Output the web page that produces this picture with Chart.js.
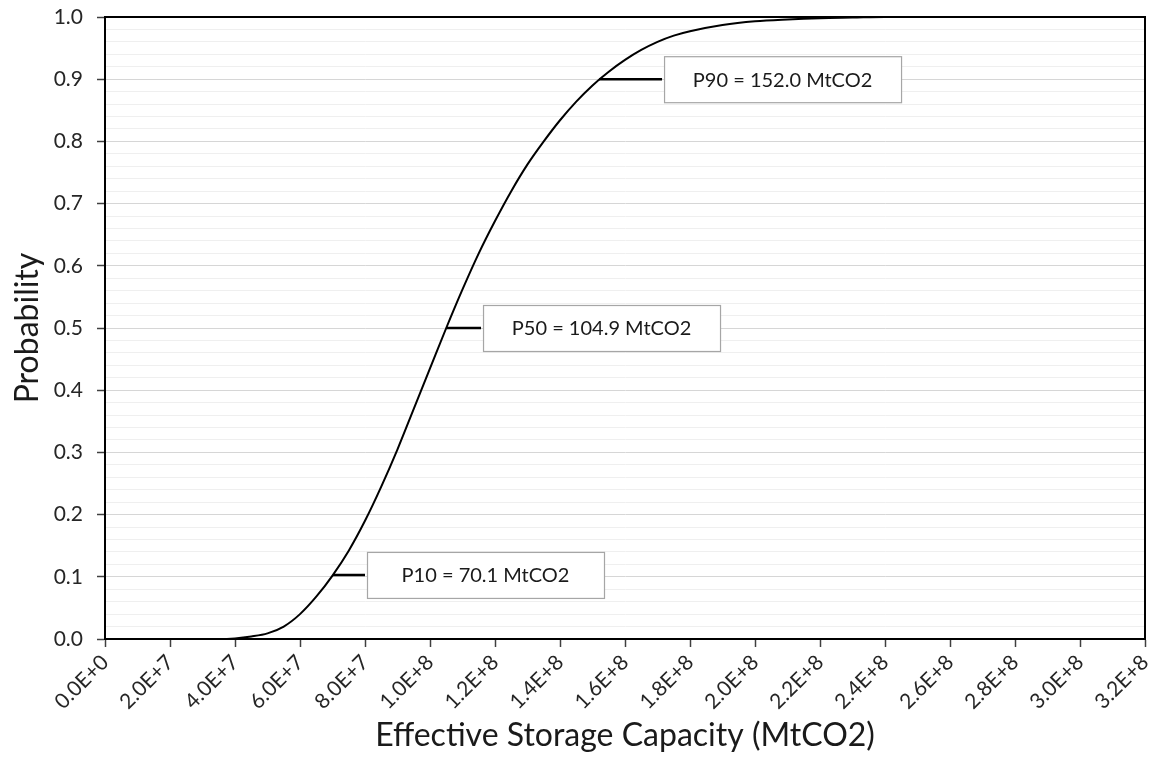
<!DOCTYPE html>
<html>
<head>
<meta charset="utf-8">
<script src="https://cdn.jsdelivr.net/npm/chart.js@4.4.1/dist/chart.umd.min.js"></script>
<style>
  html, body { margin: 0; padding: 0; background: #ffffff; }
  #wrap { position: relative; width: 1156px; height: 760px; }
</style>
</head>
<body>
<div id="wrap"><canvas id="c" width="1156" height="760"></canvas></div>
<script>
// ---- data ----
const capacity = [2.6e7, 3.0e7, 3.5e7, 4.0e7, 4.5e7, 5.0e7, 5.5e7, 6.0e7, 6.5e7, 7.0e7, 7.5e7, 8.0e7, 8.5e7, 9.0e7, 9.5e7, 1.0e8, 1.05e8, 1.1e8, 1.15e8, 1.2e8, 1.25e8, 1.3e8, 1.35e8, 1.4e8, 1.45e8, 1.5e8, 1.55e8, 1.6e8, 1.65e8, 1.7e8, 1.75e8, 1.8e8, 1.9e8, 2.0e8, 2.1e8, 2.2e8, 2.3e8, 2.4e8, 2.6e8, 2.8e8, 3.2e8];
const probability = [0, 0, 0, 0.001, 0.004, 0.009, 0.02, 0.04, 0.068, 0.102, 0.142, 0.19, 0.245, 0.305, 0.37, 0.435, 0.50, 0.562, 0.62, 0.672, 0.72, 0.763, 0.80, 0.834, 0.864, 0.89, 0.912, 0.931, 0.947, 0.96, 0.97, 0.977, 0.987, 0.993, 0.996, 0.998, 0.999, 1.0, 1.0, 1.0, 1.0];

const xTickLabels = ["0.0E+0","2.0E+7","4.0E+7","6.0E+7","8.0E+7","1.0E+8","1.2E+8","1.4E+8","1.6E+8","1.8E+8","2.0E+8","2.2E+8","2.4E+8","2.6E+8","2.8E+8","3.0E+8","3.2E+8"];
const yTickLabels = ["0.0","0.1","0.2","0.3","0.4","0.5","0.6","0.7","0.8","0.9","1.0"];

// percentile markers
const pLabels = ["P10 = 70.1 MtCO2", "P50 = 104.9 MtCO2", "P90 = 152.0 MtCO2"];
const pValues = [7.01e7, 1.049e8, 1.52e8];
const pProbs = [0.103, 0.5, 0.9];
const pLeaderEnds = [8.0e7, 1.157e8, 1.714e8];

const FONT = "Lato, 'Open Sans', sans-serif";

const curve = capacity.map((x, i) => ({ x: x, y: probability[i] }));
const leaderSets = pValues.map((v, i) => ({
  data: [{ x: v, y: pProbs[i] }, { x: pLeaderEnds[i], y: pProbs[i] }],
  borderColor: '#000', borderWidth: 2.5, pointRadius: 0, tension: 0, order: 0
}));

const framePlugin = {
  id: 'frame',
  afterDatasetsDraw(chart) {
    const { ctx, chartArea: a, scales: { x, y } } = chart;
    ctx.save();
    ctx.font = "20px " + FONT;
    ctx.textAlign = 'center';
    ctx.textBaseline = 'middle';
    pLabels.forEach((lab, i) => {
      const bx = x.getPixelForValue(pLeaderEnds[i]) + 2;
      const cy = y.getPixelForValue(pProbs[i]);
      const w = 237, h = 46;
      ctx.fillStyle = '#ffffff';
      ctx.fillRect(bx, cy - h / 2, w, h);
      ctx.strokeStyle = '#a6a6a6';
      ctx.lineWidth = 1.2;
      ctx.strokeRect(bx + 0.5, cy - h / 2 + 0.5, w, h);
      ctx.fillStyle = '#1a1a1a';
      ctx.fillText(lab, bx + w / 2, cy + 1);
    });
    ctx.strokeStyle = '#000';
    ctx.lineWidth = 2;
    ctx.strokeRect(a.left, a.top, a.right - a.left, a.bottom - a.top);
    ctx.restore();
  }
};

new Chart(document.getElementById('c'), {
  type: 'line',
  data: {
    datasets: [
      { data: curve, borderColor: '#000', borderWidth: 2, pointRadius: 0,
        cubicInterpolationMode: 'monotone', fill: false, order: 1 },
      ...leaderSets
    ]
  },
  options: {
    responsive: false,
    animation: false,
    layout: { padding: { left: 8, right: 11, top: 17, bottom: 0 } },
    plugins: { legend: { display: false }, tooltip: { enabled: false } },
    scales: {
      x: {
        type: 'linear', min: 0, max: 3.2e8,
        afterFit(s) { s.height = 121; s.paddingLeft = 0; s.paddingRight = 0; },
        ticks: {
          stepSize: 2e7, autoSkip: false, maxRotation: 45, minRotation: 45,
          padding: 3, color: '#262626', font: { family: FONT, size: 21 },
          callback: (v, i) => xTickLabels[i]
        },
        grid: { display: true, drawOnChartArea: false, drawTicks: true, tickLength: 8, tickColor: '#404040', tickWidth: 1.5 },
        border: { display: true, color: '#000', width: 2 },
        title: { display: true, text: 'Effective Storage Capacity (MtCO2)', color: '#1a1a1a',
                 font: { family: FONT, size: 32 }, padding: { top: 0, bottom: 5 } }
      },
      y: {
        type: 'linear', min: 0, max: 1,
        afterFit(s) { s.width = 97; s.paddingTop = 0; s.paddingBottom = 0; },
        ticks: {
          stepSize: 0.02, autoSkip: false, padding: 14, color: '#262626',
          font: { family: FONT, size: 21 },
          callback: (v, i) => (i % 5 === 0 ? yTickLabels[i / 5] : '')
        },
        grid: {
          color: (c) => (c.index % 5 === 0 ? '#d6d6d6' : '#efefef'),
          lineWidth: 1, drawTicks: true, tickLength: 8,
          tickColor: (c) => (c.index % 5 === 0 ? '#404040' : 'rgba(0,0,0,0)'), tickWidth: 1.5
        },
        border: { display: true, color: '#000', width: 2 },
        title: { display: true, text: 'Probability', color: '#1a1a1a',
                 font: { family: FONT, size: 32 }, padding: { top: 0, bottom: 0 } }
      }
    }
  },
  plugins: [framePlugin]
});
</script>
</body>
</html>
